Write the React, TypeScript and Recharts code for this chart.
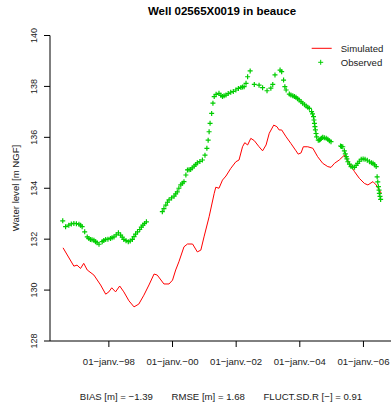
import { ComposedChart, Line, Scatter, XAxis, YAxis } from "recharts";

const RED = "#ff0000";
const GREEN = "#00cd00";
const FONT = "'Liberation Sans', Arial, sans-serif";

// simulated head (decimal year, m NGF)
const simT = [
  1996.56, 1996.9, 1997.0, 1997.11, 1997.21, 1997.32, 1997.53, 1997.74, 1997.9, 1998.0,
  1998.09, 1998.21, 1998.34, 1998.47, 1998.63, 1998.79, 1998.94, 1999.1, 1999.26, 1999.42,
  1999.52, 1999.73, 1999.89, 2000.0, 2000.1, 2000.2, 2000.36, 2000.47, 2000.63, 2000.78,
  2000.89, 2000.99, 2001.15, 2001.31, 2001.36, 2001.46, 2001.57, 2001.68, 2001.83, 2001.99,
  2002.09, 2002.2, 2002.27, 2002.36, 2002.46, 2002.57, 2002.72, 2002.83, 2002.94, 2003.04,
  2003.18, 2003.28, 2003.35, 2003.43, 2003.57, 2003.72, 2003.88, 2003.95, 2004.04, 2004.11,
  2004.25, 2004.41, 2004.56, 2004.72, 2004.88, 2004.98, 2005.09, 2005.24, 2005.4, 2005.56,
  2005.72, 2005.87, 2006.03, 2006.14, 2006.3, 2006.4, 2006.56,
];
const simV = [
  131.66, 130.94, 130.98, 130.85, 131.05, 130.79, 130.59, 130.2, 129.84, 129.93,
  130.09, 129.93, 130.16, 129.93, 129.58, 129.34, 129.45, 129.8, 130.2, 130.63,
  130.59, 130.24, 130.24, 130.39, 130.79, 131.11, 131.7, 131.81, 131.81, 131.5,
  131.57, 132.09, 132.88, 133.8, 134.04, 134.0, 134.32, 134.48, 134.78, 135.04,
  135.11, 135.63, 135.79, 135.7, 135.96, 135.87, 135.63, 135.47, 135.7, 136.16,
  136.48, 136.42, 136.29, 136.29, 136.02, 135.76, 135.47, 135.34, 135.39, 135.63,
  135.63, 135.57, 135.24, 134.98, 134.85, 134.82, 134.98, 135.11, 135.3, 134.98,
  134.65, 134.39, 134.19, 134.13, 134.26, 134.13, 133.8,
];

// observed head
const obsT = [
  1996.55, 1996.64, 1996.74, 1996.82, 1996.9, 1996.98, 1997.06, 1997.11, 1997.16, 1997.24,
  1997.32, 1997.37, 1997.42, 1997.47, 1997.53, 1997.58, 1997.63, 1997.69, 1997.79, 1997.84,
  1997.9, 1997.97, 1998.05, 1998.1, 1998.16, 1998.23, 1998.3, 1998.37, 1998.42, 1998.47,
  1998.54, 1998.61, 1998.67, 1998.74, 1998.79, 1998.84, 1998.9, 1998.97, 1999.02, 1999.07,
  1999.12, 1999.18,
  1999.68, 1999.73, 1999.79, 1999.84, 1999.89, 1999.97, 2000.05, 2000.1, 2000.15, 2000.2,
  2000.26, 2000.31, 2000.36, 2000.42, 2000.47, 2000.52, 2000.57, 2000.62, 2000.68, 2000.73,
  2000.78, 2000.86, 2000.94, 2001.02, 2001.08, 2001.12, 2001.15, 2001.18, 2001.23, 2001.27,
  2001.31, 2001.37, 2001.46, 2001.52, 2001.57, 2001.62, 2001.68, 2001.75, 2001.83, 2001.91,
  2001.99, 2002.07, 2002.15, 2002.2, 2002.25, 2002.31, 2002.36, 2002.44,
  2002.57, 2002.72, 2002.83, 2002.97, 2003.09, 2003.15, 2003.22, 2003.38, 2003.43, 2003.49,
  2003.53, 2003.57, 2003.67, 2003.72, 2003.78, 2003.83, 2003.88, 2003.93, 2003.98, 2004.04,
  2004.09, 2004.15, 2004.2, 2004.25, 2004.3, 2004.37, 2004.4, 2004.43, 2004.445, 2004.46,
  2004.475, 2004.49, 2004.51, 2004.53, 2004.58, 2004.62, 2004.65, 2004.68, 2004.72, 2004.77,
  2004.83, 2004.88, 2004.93, 2004.98,
  2005.28, 2005.31, 2005.35, 2005.4, 2005.43, 2005.46, 2005.48, 2005.51, 2005.56, 2005.61,
  2005.66, 2005.72, 2005.77, 2005.82, 2005.87, 2005.93, 2005.99, 2006.05, 2006.12, 2006.19,
  2006.25, 2006.3, 2006.35, 2006.4, 2006.43, 2006.45, 2006.47, 2006.49, 2006.5, 2006.52,
  2006.54,
];
const obsV = [
  132.72, 132.49, 132.55, 132.6, 132.62, 132.61, 132.59, 132.55, 132.49, 132.29,
  132.09, 132.03, 131.99, 131.98, 131.96, 131.9, 131.86, 131.8, 131.9, 131.95,
  131.99, 132.0, 132.03, 132.06, 132.09, 132.17, 132.25, 132.16, 132.08, 131.99,
  131.94, 131.9, 131.93, 131.99, 132.1, 132.2, 132.29, 132.38, 132.47, 132.55,
  132.62, 132.68,
  133.08, 133.2, 133.34, 133.45, 133.54, 133.62, 133.69, 133.78, 133.86, 134.0,
  134.13, 134.2, 134.26, 134.52, 134.72, 134.73, 134.74, 134.8, 134.87, 134.93,
  135.0, 135.05, 135.11, 135.3, 135.57, 135.89, 136.22, 136.55, 136.94, 137.34,
  137.6, 137.69, 137.73, 137.65, 137.6, 137.63, 137.66, 137.72, 137.77, 137.8,
  137.86, 137.92, 137.96, 137.98, 137.99, 138.12, 138.38, 138.61,
  138.08, 138.05, 137.95, 137.83, 137.93, 138.08, 138.45, 138.64, 138.58, 138.25,
  137.99, 137.86, 137.7, 137.66, 137.63, 137.6, 137.57, 137.52, 137.47, 137.4,
  137.34, 137.28, 137.23, 137.18, 137.14, 137.01, 136.92, 136.81, 136.68, 136.55,
  136.42, 136.29, 136.15, 136.02, 135.89, 135.9, 135.92, 135.96, 136.0, 135.98,
  135.96, 135.92, 135.87, 135.83,
  135.66, 135.64, 135.63, 135.47, 135.35, 135.24, 135.15, 135.04, 134.95, 134.85,
  134.83, 134.82, 134.9, 134.98, 135.06, 135.14, 135.15, 135.14, 135.1, 135.04,
  135.0, 134.98, 134.92, 134.85, 134.45, 134.25, 134.06, 133.93, 133.8, 133.68,
  133.56,
];

const xTicks = [1998, 2000, 2002, 2004, 2006];
const xTickLabels = ["01−janv.−98", "01−janv.−00", "01−janv.−02", "01−janv.−04", "01−janv.−06"];
const yTicks = [128, 130, 132, 134, 136, 138, 140];

const simData = simT.map((t, i) => ({ t, v: simV[i] }));
const obsData = obsT.map((t, i) => ({ t, v: obsV[i] }));

const XTick = (p: any) => {
  const i = xTicks.indexOf(p.payload.value);
  return (
    <text x={p.x} y={365} textAnchor="middle" fontSize={9.6} fontFamily={FONT} fill="#222">
      {xTickLabels[i]}
    </text>
  );
};

const YTick = (p: any) => (
  <text
    transform={`translate(36.5,${p.y}) rotate(-90)`}
    textAnchor="middle"
    fontSize={9}
    fontFamily={FONT}
    fill="#222"
  >
    {p.payload.value}
  </text>
);

const Plus = (p: any) => (
  <path
    d={`M${p.cx - 2.5},${p.cy}h5M${p.cx},${p.cy - 2.5}v5`}
    stroke={GREEN}
    strokeWidth={1.2}
    fill="none"
  />
);

export default function App() {
  return (
    <div style={{ position: "absolute", left: 0, top: 0, width: 391, height: 410, overflow: "hidden", background: "#fff" }}>
      <ComposedChart width={400} height={410} margin={{ top: 35.5, right: 6, bottom: 39, left: 0 }}>
        <XAxis
          dataKey="t"
          type="number"
          domain={[1996.15, 2006.96]}
          allowDataOverflow
          ticks={xTicks}
          interval={0}
          height={30}
          tickSize={6}
          tick={<XTick />}
          axisLine={{ stroke: "#000" }}
          tickLine={{ stroke: "#000" }}
        />
        <XAxis
          xAxisId="top"
          orientation="top"
          type="number"
          domain={[1996.15, 2006.96]}
          height={0}
          tick={false}
          tickLine={false}
          axisLine={{ stroke: "#000" }}
        />
        <YAxis
          dataKey="v"
          type="number"
          domain={[128, 140]}
          allowDataOverflow
          ticks={yTicks}
          interval={0}
          width={50}
          tickSize={6}
          tick={<YTick />}
          axisLine={{ stroke: "#000" }}
          tickLine={{ stroke: "#000" }}
        />
        <Line
          data={simData}
          dataKey="v"
          type="linear"
          stroke={RED}
          strokeWidth={1}
          dot={false}
          isAnimationActive={false}
        />
        <Scatter data={obsData} dataKey="v" shape={<Plus />} isAnimationActive={false} />
      </ComposedChart>
      <svg
        width={391}
        height={410}
        style={{ position: "absolute", left: 0, top: 0, pointerEvents: "none" }}
        fontFamily={FONT}
      >
        <text x={222} y={15} textAnchor="middle" fontSize={11.5} fontWeight="bold" fill="#000">
          Well 02565X0019 in beauce
        </text>
        <text transform="translate(19,188) rotate(-90)" textAnchor="middle" fontSize={9.6} fill="#222">
          Water level [m NGF]
        </text>
        <line x1={311.7} x2={331.7} y1={48.3} y2={48.3} stroke={RED} strokeWidth={1} />
        <text x={340.7} y={51.7} fontSize={9.6} fill="#222">Simulated</text>
        <path d="M318.2,62.3h5M320.7,59.8v5" stroke={GREEN} strokeWidth={1} />
        <text x={340.7} y={65.7} fontSize={9.6} fill="#222">Observed</text>
        <text x={221} y={400} textAnchor="middle" fontSize={9.6} fill="#222" xmlSpace="preserve">
          {"BIAS [m] = −1.39       RMSE [m] = 1.68       FLUCT.SD.R [−] = 0.91"}
        </text>
      </svg>
    </div>
  );
}
